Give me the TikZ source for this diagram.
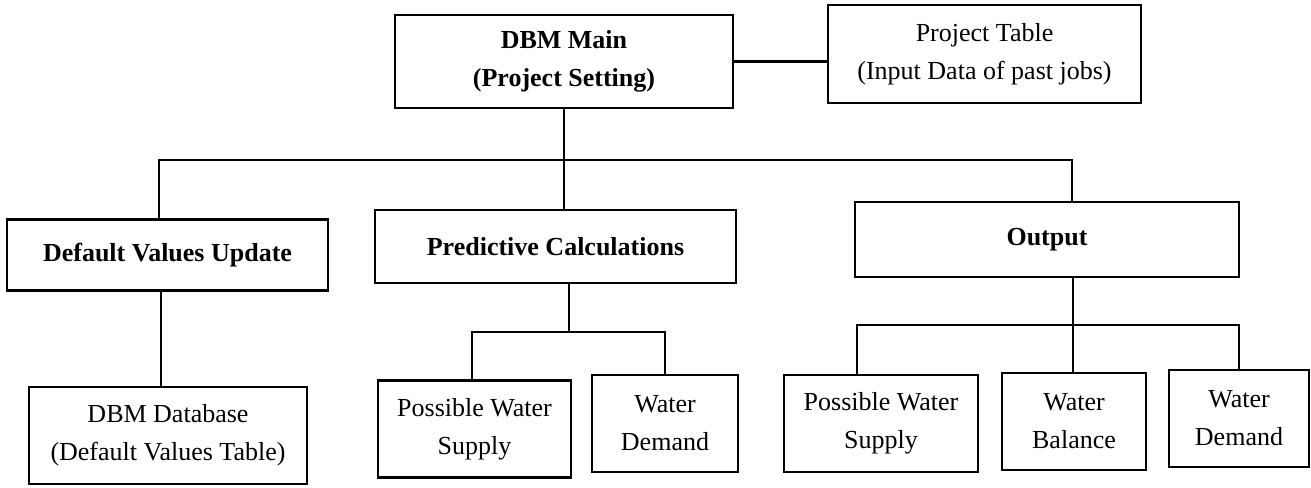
\documentclass[tikz,border=0pt]{standalone}
\usepackage{fontspec}
\setmainfont{Liberation Serif}
\tikzset{
    box/.style={draw, line width=1.3pt, align=center, inner sep=0pt, font=\fontsize{13}{19}\selectfont},
    boldbox/.style={box, font=\fontsize{13}{19}\selectfont\bfseries},
    link/.style={line width=1.1pt}
}
\begin{document}
\begin{tikzpicture}[x=0.5pt, y=-0.5pt]
            \useasboundingbox (0,0) rectangle (1311,487);
            % top row
            \node[boldbox, minimum width=169pt, minimum height=46.5pt] (main) at (564,61.5) {DBM Main\\(Project Setting)};
            \node[box, minimum width=156.5pt, minimum height=49pt] (ptable) at (984.5,54) {Project Table\\(Input Data of past jobs)};
            % second row
            \node[boldbox, minimum width=160.5pt, minimum height=35.5pt] (dvu) at (167.5,255) {Default Values Update};
            \node[boldbox, minimum width=180.5pt, minimum height=36.5pt] (pred) at (555.5,246.5) {Predictive Calculations};
            \node[boldbox, minimum width=192pt, minimum height=37.5pt] (out) at (1047,239.5) {Output};
            % bottom row
            \foreach \nm/\cx/\cy/\bw/\txt in {dbmdb/168/435.5/139/{DBM Database\\(Default Values Table)},
                pws1/474.5/429/96.5/{Possible Water\\Supply}, wd1/665/423.5/73/{Water\\Demand},
                pws2/881/423.5/97/{Possible Water\\Supply}, wb/1074/421.5/72/{Water\\Balance},
                wd2/1239/418.5/70/{Water\\Demand}}
                {
                    \node[box, minimum width=\bw pt, minimum height=48.5pt] (\nm) at (\cx,\cy) {\txt};
                }
            \coordinate (bus) at (564,160);
            \coordinate (pbus) at (569,332);
            \coordinate (obus) at (1073,325);
            \draw[link] (main.east) -- (main.east -| ptable.west);
            \draw[link] (main.south) -- (main.south |- pred.north);
            \draw[link] ([xshift=-4.25pt]dvu.north) |- (bus) -| ([xshift=12.5pt]out.north);
            \draw[link] ([xshift=-3.25pt]dvu.south) -- ([xshift=-3.25pt]dvu.south |- dbmdb.north);
            \draw[link] (pbus |- pred.south) -- (pbus);
            \draw[link] ([xshift=-1.25pt]pws1.north) |- (pbus) -| (wd1.north);
            \draw[link] (obus |- out.south) -- (obus |- wb.north);
            \draw[link] ([xshift=-12pt]pws2.north) |- (obus) -| (wd2.north);
        \end{tikzpicture}
\end{document}
